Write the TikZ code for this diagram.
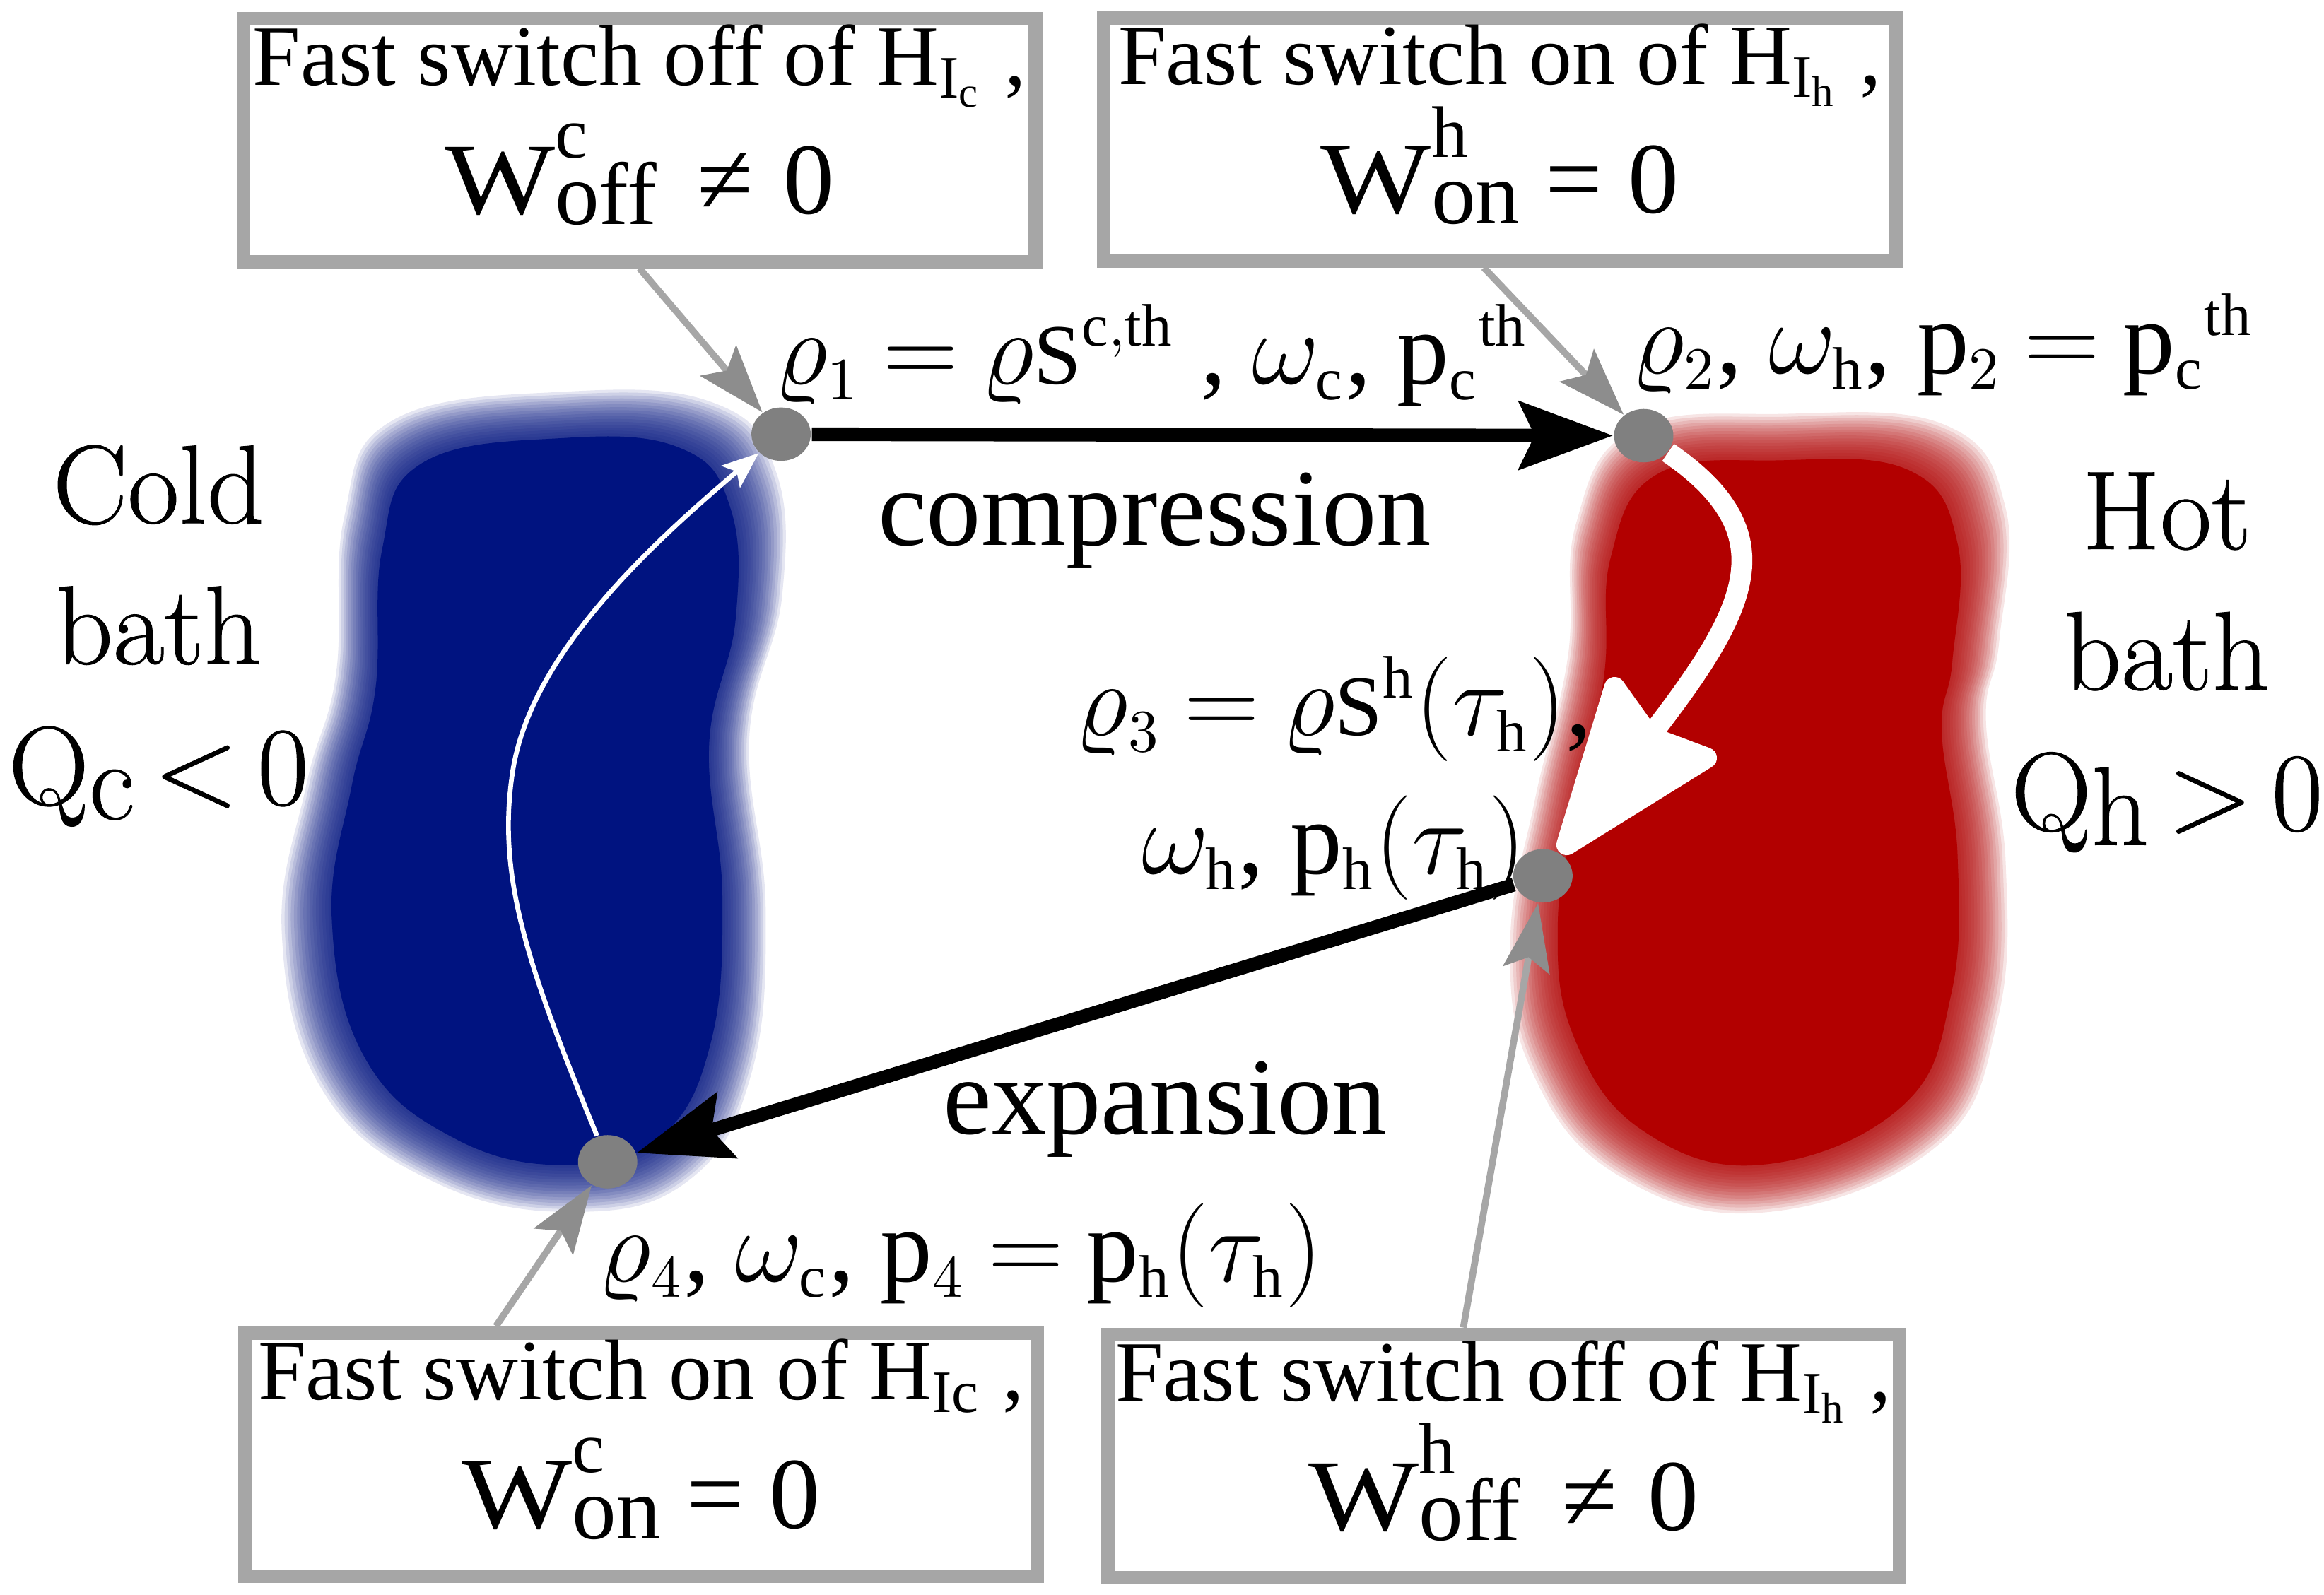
\RequirePackage{fix-cm}
\documentclass[tikz,border=0pt]{standalone}
\usepackage{graphicx}
\usepackage{fontspec}
\setmainfont{Liberation Serif}
\newfontfamily\bathfont[FakeBold=0.6]{Latin Modern Roman}
\DeclareMathSizes{20}{20}{11.5}{9}
\usepackage{tikz}
\usetikzlibrary{arrows.meta,calc,shapes.geometric}
\definecolor{figcold}{RGB}{0,19,128}
\definecolor{fighot}{RGB}{178,0,0}
\definecolor{figframe}{RGB}{166,166,166}
\definecolor{figdot}{RGB}{128,128,128}
\newcommand{\labsp}{\thickmuskip=4mu\relax\medmuskip=3mu\relax}
\newcommand{\rS}{\mbox{\fontsize{16.5}{16.5}\selectfont S}}
\newcommand{\wsym}[2]{\scalebox{1.15}[1]{W}\rlap{\smash{\raisebox{0.555em}{\fontsize{14}{14}\selectfont #1}}}\raisebox{-0.1em}{\fontsize{17}{17}\selectfont #2}\rule[-8pt]{0pt}{1pt}}
\newcommand{\coldblob}{plot[smooth cycle, tension=0.7] coordinates {(15,-260) (105,-253) (143,-210) (147,-130) (127,-40) (137,70) (128,175) (90,242) (20,262) (-65,243) (-133,185) (-158,85) (-143,-10) (-125,-80) (-120,-180) (-90,-242)}}
\newcommand{\hotblob}{plot[smooth cycle, tension=0.7] coordinates {(15,-250) (115,-243) (152,-190) (148,-105) (140,-55) (152,35) (147,135) (110,215) (5,257) (-85,233) (-137,167) (-150,85) (-135,-5) (-115,-95) (-110,-180) (-75,-240)}}
\tikzset{
  swbox/.style ={draw=figframe, line width=2.6pt, fill=white, minimum width=5.34cm, minimum height=1.64cm, align=center, inner sep=0pt, font=\fontsize{16.5}{24.8}\selectfont},
  st/.style    ={ellipse, fill=figdot, minimum width=0.40cm, minimum height=0.36cm, inner sep=0pt},
  stlab/.style ={font=\fontsize{20}{26.5}\selectfont\labsp, inner sep=0pt, align=center},
  bathlab/.style={font=\bathfont\fontsize{21.5}{27}\selectfont, align=center, inner sep=0pt},
  cyc/.style   ={draw=black, line width=2.6pt, -{Stealth[length=18pt,width=13pt,inset=3pt]}},
  cycw/.style  ={draw=white, line width=4pt, -{Stealth[length=38pt,width=28pt,inset=4pt,round]}},
  cycwt/.style ={draw=white, line width=0.9pt, -{Stealth[length=7pt,width=5.5pt,inset=1.5pt]}},
  call/.style  ={draw=figframe, line width=1.3pt, -{Stealth[length=13pt,width=9pt,inset=2.5pt,color=figframe!85!black]}},
}

\begin{document}
\begin{tikzpicture}[x=0.01cm,y=-0.01cm]
  \useasboundingbox (0,0) rectangle (1568,1076);
  \fill[white] (0,0) rectangle (1568,1076);
  % baths
  \begin{scope}[shift={(365,540)}]
    \foreach \d in {-16,-14,...,16}
      \fill[figcold, fill opacity=0.1, xscale=1+\d/150, yscale=1+\d/265] \coldblob;
    \fill[figcold, xscale=1-16/150, yscale=1-16/265] \coldblob;
  \end{scope}
  \begin{scope}[shift={(1185,545)}]
    \foreach \d in {-16,-14,...,16}
      \fill[fighot, fill opacity=0.1, xscale=1+\d/150, yscale=1+\d/255] \hotblob;
    \fill[fighot, xscale=1-16/150, yscale=1-16/255] \hotblob;
  \end{scope}
  \node[bathlab] (coldlab) at (107,429) {Cold\\bath\\Q\raisebox{-0.3ex}{c}\,<\,0};
  \node[bathlab] (hotlab) at (1462,447) {Hot\\bath\\Q\raisebox{-0.3ex}{h}\,>\,0};
  % switch boxes
  \node[swbox] (offc) at (431.5,94.5) {Fast switch off of \smash{H$_{\mathrm{I}_{\mathrm{c}}}$} ,\\
    {\fontsize{19.5}{24.8}\selectfont \wsym{c}{off}\hspace{0.4em}≠\hspace{0.3em}0}};
  \node[swbox] (onh) at (1012,94) {Fast switch on of \smash{H$_{\mathrm{I}_{\mathrm{h}}}$} ,\\
    {\fontsize{19.5}{24.8}\selectfont \wsym{h}{on}\hspace{0.25em}=\hspace{0.25em}0}};
  \node[swbox] (onc) at (432.5,981.5) {Fast switch on of \smash{H$_{\mathrm{Ic}}$} ,\\
    {\fontsize{19.5}{24.8}\selectfont \wsym{c}{on}\hspace{0.25em}=\hspace{0.25em}0}};
  \node[swbox] (offh) at (1014.5,982.5) {Fast switch off of \smash{H$_{\mathrm{I}_{\mathrm{h}}}$} ,\\
    {\fontsize{19.5}{24.8}\selectfont \wsym{h}{off}\hspace{0.4em}≠\hspace{0.3em}0}};
  % states
  \node[st] (s1) at (527,293) {};
  \node[st] (s2) at (1109,294) {};
  \node[st] (s3) at (1041,591) {};
  \node[st] (s4) at (410,784) {};
  \node[stlab, anchor=base west] (lab1) at (522,259)
    {$\varrho_1 = \varrho\rS^{\mathrm{c,th}}$ , $\omega_{\mathrm{c}}$, $\mathrm{p}_{\mathrm{c}}{}^{\mathrm{th}}$};
  \node[stlab, anchor=base west] (lab2) at (1100,252)
    {$\varrho_2$, $\omega_{\mathrm{h}}$, $\mathrm{p}_2 = \mathrm{p}_{\mathrm{c}}{}^{\mathrm{th}}$};
  \node[stlab] (lab3) at (900,525)
    {$\varrho_3 = \varrho\rS^{\mathrm{h}}(\tau_{\mathrm{h}})$,\\ $\omega_{\mathrm{h}}$, $\mathrm{p}_{\mathrm{h}}(\tau_{\mathrm{h}})$};
  \node[stlab, anchor=base west] (lab4) at (403,865)
    {$\varrho_4$, $\omega_{\mathrm{c}}$, $\mathrm{p}_4 = \mathrm{p}_{\mathrm{h}}(\tau_{\mathrm{h}})$};
  \node[stlab, font=\fontsize{21}{26.5}\selectfont, anchor=base] (comp) at (779,368) {compression};
  \node[stlab, font=\fontsize{21}{26.5}\selectfont, anchor=base] (expa) at (786,765) {expansion};
  % strokes
  \draw[cyc] (s1) -- (s2);
  \draw[cyc] (s3) -- (s4);
  \draw[cycw] (s2) .. controls (1205,360) and (1180,410) .. (s3);
  \draw[cycwt] (s4) .. controls (355,650) and (335,590) .. (346,520) .. controls (358,445) and (430,375) .. (s1);
  % callouts
  \draw[call] (offc.south) -- (s1);
  \draw[call] ($(onh.south west)!0.48!(onh.south east)$) -- (s2);
  \draw[call] ($(onc.north west)!0.32!(onc.north east)$) -- (s4);
  \draw[call] ($(offh.north west)!0.45!(offh.north east)$) -- (s3);
\end{tikzpicture}
\end{document}
